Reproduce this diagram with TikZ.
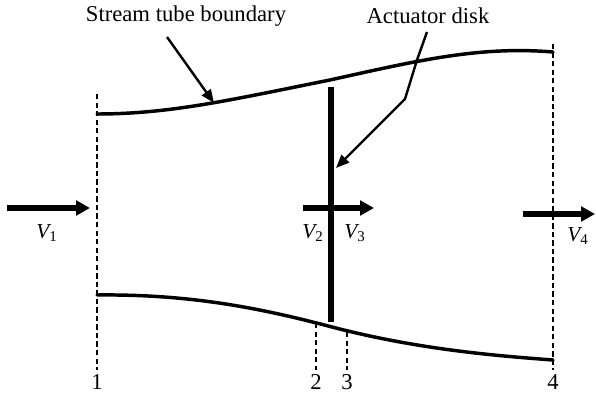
\documentclass[tikz,border=0pt]{standalone}
\usepackage{fontspec}
\setmainfont{Liberation Serif}
\usetikzlibrary{arrows.meta}
\begin{document}
\begin{tikzpicture}[x=0.75pt,y=-0.75pt,
  tube/.style={line width=2.6pt,line cap=round},
  disk/.style={line width=5pt},
  flow/.style={line width=4.5pt,-{Triangle[length=10.5pt,width=11pt]}},
  pointer/.style={line width=1.8pt,-{Triangle[length=10pt,width=8pt]}},
  station/.style={line width=1.9pt,dash pattern=on 4pt off 2.4pt},
  lbl/.style={inner sep=0pt,font=\fontsize{17}{19}\selectfont},
  vlbl/.style={inner sep=0pt,font=\fontsize{16}{18}\selectfont}]
\useasboundingbox (0,0) rectangle (596,402);
% stations
\coordinate (s1t) at (97,94);   \coordinate (s1b) at (97,370);
\coordinate (s4t) at (553,44);  \coordinate (s4b) at (553,370);
\coordinate (s2t) at (316,323); \coordinate (s2b) at (316,370);
\coordinate (s3t) at (347,332); \coordinate (s3b) at (347,370);
\draw[station] (s1t) -- (s1b);
\draw[station] (s4t) -- (s4b);
\draw[station] (s2t) -- (s2b);
\draw[station] (s3t) -- (s3b);
\node[lbl] (n1) at (97,382) {1};
\node[lbl] (n2) at (316,382) {2};
\node[lbl] (n3) at (347,382) {3};
\node[lbl] (n4) at (553,382) {4};
% stream tube
\coordinate (ta) at (97,114); \coordinate (tm) at (330,80); \coordinate (tb) at (553,52);
\draw[tube] (ta) .. controls (170,114) and (230,100) .. (tm)
             .. controls (420,60) and (480,46) .. (tb);
\coordinate (ba) at (97,295); \coordinate (bm) at (332,327); \coordinate (bb) at (553,360);
\draw[tube] (ba) .. controls (190,294) and (260,308) .. (bm)
             .. controls (420,350) and (500,356) .. (bb);
% disk
\coordinate (dt) at (331,87); \coordinate (db) at (331,322);
\draw[disk] (dt) -- (db);
% flow arrows
\coordinate (a1s) at (7,208);   \coordinate (a1e) at (90,208);
\coordinate (a2s) at (303,208); \coordinate (a2e) at (374,208);
\coordinate (a4s) at (523,214); \coordinate (a4e) at (595,214);
\draw[flow] (a1s) -- (a1e);
\draw[flow] (a2s) -- (a2e);
\draw[flow] (a4s) -- (a4e);
\node[vlbl] (v1) at (47,233) {\itshape V\textsubscript{\upshape 1}};
\node[vlbl] (v2) at (313,233) {\itshape V\textsubscript{\upshape 2}};
\node[vlbl] (v3) at (355,233) {\itshape V\textsubscript{\upshape 3}};
\node[vlbl] (v4) at (578,236) {\itshape V\textsubscript{\upshape 4}};
% labels and pointers
\node[lbl] (stb) at (186,16) {Stream tube boundary};
\node[lbl] (act) at (428,16) {Actuator disk};
\coordinate (p1s) at (167,37); \coordinate (p1e) at (214,103);
\draw[pointer] (p1s) -- (p1e);
\coordinate (q0) at (427,32); \coordinate (q1) at (417,60); \coordinate (q2) at (405,99);
\coordinate (q3) at (336,168);
\draw[pointer] (q0) -- (q1) -- (q2) -- (q3);
\end{tikzpicture}
\end{document}
